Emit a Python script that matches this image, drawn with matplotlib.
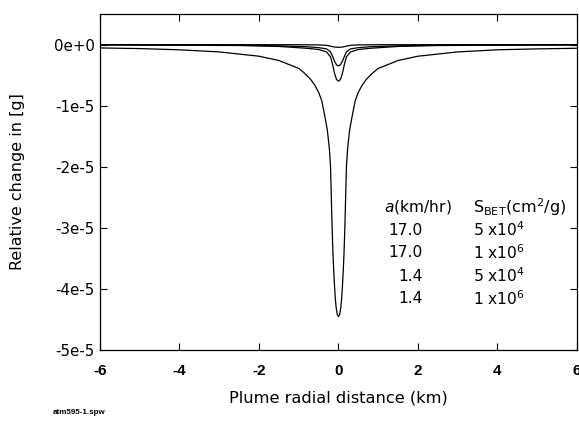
import matplotlib
matplotlib.use("Agg")
import matplotlib.pyplot as plt
import numpy as np

plt.rcParams['font.family'] = ['DejaVu Sans']
plt.rcParams['mathtext.fontset'] = 'dejavusans'

# Deepest curve (a = 1.4 km/hr, S_BET = 1x10^6)
x_deep = [-6, -5, -4, -3, -2, -1.5, -1.0, -0.85, -0.7, -0.6, -0.5, -0.42, -0.35, -0.28, -0.23,
          -0.2, -0.18, -0.16, -0.14, -0.12, -0.1, -0.08, -0.06, -0.03, 0,
          0.03, 0.06, 0.08, 0.1, 0.12, 0.14, 0.16, 0.18, 0.2, 0.23, 0.28, 0.35, 0.42, 0.5,
          0.6, 0.7, 0.85, 1.0, 1.5, 2, 3, 4, 5, 6]
y_deep = [-0.055, -0.065, -0.085, -0.12, -0.19, -0.26, -0.39, -0.47, -0.57, -0.66, -0.78, -0.92,
          -1.15, -1.4, -1.7, -2.0, -2.5, -3.0, -3.4, -3.7, -3.95, -4.15, -4.3, -4.42, -4.45,
          -4.42, -4.3, -4.15, -3.95, -3.7, -3.4, -3.0, -2.5, -2.0, -1.7, -1.4, -1.15, -0.92,
          -0.78, -0.66, -0.57, -0.47, -0.39, -0.26, -0.19, -0.12, -0.085, -0.07, -0.06]

# Middle-deep curve (min about -0.6e-5)
x_mid2 = [-6, -4, -2.5, -1.5, -0.8, -0.5, -0.3, -0.2, -0.15, -0.1, -0.05, 0,
          0.05, 0.1, 0.15, 0.2, 0.3, 0.5, 0.8, 1.5, 2.5, 4, 6]
y_mid2 = [-0.005, -0.01, -0.015, -0.03, -0.06, -0.08, -0.12, -0.2, -0.32, -0.47, -0.57, -0.6,
          -0.57, -0.47, -0.32, -0.2, -0.12, -0.08, -0.06, -0.03, -0.015, -0.01, -0.005]

# Shallow curve (min about -0.35e-5)
x_mid1 = [-6, -4, -2.5, -1.5, -0.8, -0.5, -0.3, -0.2, -0.15, -0.1, -0.05, 0,
          0.05, 0.1, 0.15, 0.2, 0.3, 0.5, 0.8, 1.5, 2.5, 4, 6]
y_mid1 = [-0.003, -0.006, -0.01, -0.02, -0.035, -0.05, -0.07, -0.12, -0.19, -0.27, -0.33, -0.35,
          -0.33, -0.27, -0.19, -0.12, -0.07, -0.05, -0.035, -0.02, -0.01, -0.006, -0.003]

# Nearly flat curve (min about -0.045e-5)
x_flat = [-6, -3, -1, -0.5, -0.3, -0.2, -0.1, 0, 0.1, 0.2, 0.3, 0.5, 1, 3, 6]
y_flat = [0.0, -0.001, -0.002, -0.005, -0.012, -0.025, -0.04, -0.045,
          -0.04, -0.025, -0.012, -0.005, -0.002, -0.001, 0.0]

scale = 1e-5

x_ticks = [-6, -4, -2, 0, 2, 4, 6]
y_ticks = [0, -1e-5, -2e-5, -3e-5, -4e-5, -5e-5]
y_tick_labels = ['0e+0', '-1e-5', '-2e-5', '-3e-5', '-4e-5', '-5e-5']

table_a = ['17.0', '17.0', '1.4', '1.4']
table_s = [r'5 x10$^4$', r'1 x10$^6$', r'5 x10$^4$', r'1 x10$^6$']

fig = plt.figure(figsize=(5.79, 4.21), dpi=100)
ax = fig.add_axes([0.1727, 0.1686, 0.8238, 0.798])

for xs, ys in [(x_flat, y_flat), (x_mid1, y_mid1), (x_mid2, y_mid2), (x_deep, y_deep)]:
    ax.plot(xs, np.array(ys) * scale, color='black', lw=0.9)

ax.set_xlim(-6, 6)
ax.set_ylim(-5e-5, 0.5e-5)
ax.set_xticks(x_ticks)
ax.set_xticklabels([str(t) for t in x_ticks], fontweight='bold', fontsize=11,
                   family='Liberation Sans')
ax.set_yticks(y_ticks)
ax.set_yticklabels(y_tick_labels, fontsize=10.8)
ax.tick_params(direction='in', length=5, width=0.8, top=True, right=True)
ax.tick_params(axis='x', pad=10)
ax.tick_params(axis='y', pad=4)
for s in ax.spines.values():
    s.set_linewidth(0.9)

ax.set_xlabel('Plume radial distance (km)', fontsize=11.7, va='center')
ax.xaxis.set_label_coords(0.5, -0.143)
ax.set_ylabel('Relative change in [g]', fontsize=11.5, va='center')
ax.yaxis.set_label_coords(-0.172, 0.5)

# Parameter table
ax.text(0.595, 0.426, r'$\mathit{a}$(km/hr)', transform=ax.transAxes, fontsize=11.2,
        ha='left', va='center')
ax.text(0.782, 0.426, r'S$_{\rm BET}$(cm$^2$/g)', transform=ax.transAxes, fontsize=11.5,
        ha='left', va='center')
row_y = [0.357, 0.289, 0.220, 0.152]
for yy, a, s in zip(row_y, table_a, table_s):
    ax.text(0.677, yy, a, transform=ax.transAxes, fontsize=11.2, ha='right', va='center')
    ax.text(0.782, yy, s, transform=ax.transAxes, fontsize=11.2, ha='left', va='center')

fig.text(53 / 579, 1 - 413 / 421, 'atm595-1.spw', fontsize=5.8, fontweight='bold',
         ha='left', va='center', family='Liberation Sans')

fig.savefig('out.png', dpi=100)
